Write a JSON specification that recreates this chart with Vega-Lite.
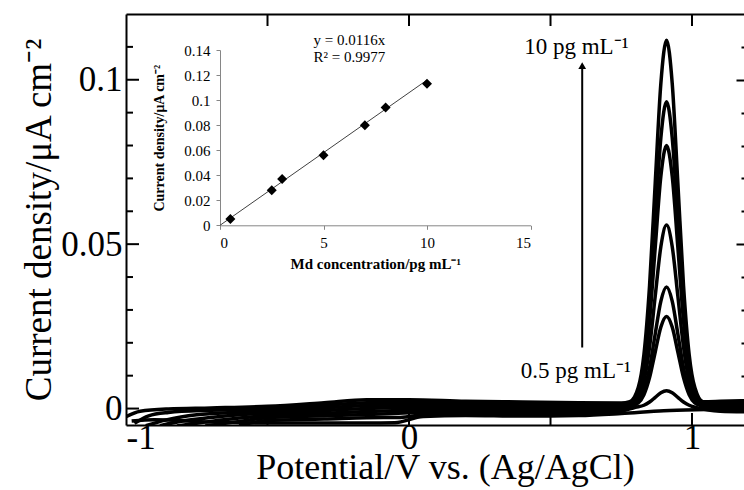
{
  "$schema": "https://vega.github.io/schema/vega-lite/v6.json",
  "autosize": "none",
  "width": 618,
  "height": 411,
  "padding": {"left": 126, "top": 14, "right": 0, "bottom": 65},
  "background": "white",
  "config": {
    "font": "Liberation Serif",
    "view": {"stroke": null},
    "axis": {"grid": false, "labelColor": "black", "titleColor": "black", "domainColor": "black", "tickColor": "black", "labelFont": "Liberation Serif", "titleFont": "Liberation Serif"}
  },
  "datasets": {
    "curves": [
      {"conc": "10", "E": -1.0, "j": -0.0025}, {"conc": "10", "E": -0.95, "j": -0.0008}, {"conc": "10", "E": -0.85, "j": -0.0001}, {"conc": "10", "E": -0.7, "j": 0.0002}, {"conc": "10", "E": -0.5, "j": 0.0007}, {"conc": "10", "E": -0.3, "j": 0.0018}, {"conc": "10", "E": -0.15, "j": 0.0027}, {"conc": "10", "E": 0.0, "j": 0.0027}, {"conc": "10", "E": 0.2, "j": 0.0022}, {"conc": "10", "E": 0.4, "j": 0.002}, {"conc": "10", "E": 0.6, "j": 0.0018}, {"conc": "10", "E": 0.75, "j": 0.0017}, {"conc": "10", "E": 0.78, "j": 0.0021}, {"conc": "10", "E": 0.81, "j": 0.0064}, {"conc": "10", "E": 0.83, "j": 0.0164}, {"conc": "10", "E": 0.85, "j": 0.0374}, {"conc": "10", "E": 0.87, "j": 0.0686}, {"conc": "10", "E": 0.89, "j": 0.099}, {"conc": "10", "E": 0.91, "j": 0.112}, {"conc": "10", "E": 0.93, "j": 0.099}, {"conc": "10", "E": 0.95, "j": 0.0686}, {"conc": "10", "E": 0.97, "j": 0.0374}, {"conc": "10", "E": 0.99, "j": 0.0164}, {"conc": "10", "E": 1.01, "j": 0.0064}, {"conc": "10", "E": 1.04, "j": 0.0021}, {"conc": "10", "E": 1.1, "j": 0.0022}, {"conc": "10", "E": 1.19, "j": 0.0024},
      {"conc": "8", "E": -0.97, "j": -0.0045}, {"conc": "8", "E": -0.92, "j": -0.0022}, {"conc": "8", "E": -0.85, "j": -0.0012}, {"conc": "8", "E": -0.7, "j": -0.0005}, {"conc": "8", "E": -0.5, "j": 0.0}, {"conc": "8", "E": -0.3, "j": 0.001}, {"conc": "8", "E": -0.15, "j": 0.0018}, {"conc": "8", "E": 0.0, "j": 0.0019}, {"conc": "8", "E": 0.2, "j": 0.0016}, {"conc": "8", "E": 0.4, "j": 0.0014}, {"conc": "8", "E": 0.6, "j": 0.0013}, {"conc": "8", "E": 0.75, "j": 0.0012}, {"conc": "8", "E": 0.78, "j": 0.0017}, {"conc": "8", "E": 0.81, "j": 0.0053}, {"conc": "8", "E": 0.83, "j": 0.0136}, {"conc": "8", "E": 0.85, "j": 0.0311}, {"conc": "8", "E": 0.87, "j": 0.0571}, {"conc": "8", "E": 0.89, "j": 0.0824}, {"conc": "8", "E": 0.91, "j": 0.0933}, {"conc": "8", "E": 0.93, "j": 0.0824}, {"conc": "8", "E": 0.95, "j": 0.0571}, {"conc": "8", "E": 0.97, "j": 0.0311}, {"conc": "8", "E": 0.99, "j": 0.0136}, {"conc": "8", "E": 1.01, "j": 0.0053}, {"conc": "8", "E": 1.04, "j": 0.0017}, {"conc": "8", "E": 1.1, "j": 0.0016}, {"conc": "8", "E": 1.19, "j": 0.0018},
      {"conc": "7", "E": -0.93, "j": -0.0052}, {"conc": "7", "E": -0.85, "j": -0.0033}, {"conc": "7", "E": -0.75, "j": -0.0019}, {"conc": "7", "E": -0.6, "j": -0.0011}, {"conc": "7", "E": -0.5, "j": -0.0007}, {"conc": "7", "E": -0.3, "j": 0.0002}, {"conc": "7", "E": -0.15, "j": 0.0009}, {"conc": "7", "E": 0.0, "j": 0.0011}, {"conc": "7", "E": 0.2, "j": 0.001}, {"conc": "7", "E": 0.4, "j": 0.0008}, {"conc": "7", "E": 0.6, "j": 0.0007}, {"conc": "7", "E": 0.75, "j": 0.0008}, {"conc": "7", "E": 0.78, "j": 0.0014}, {"conc": "7", "E": 0.81, "j": 0.0045}, {"conc": "7", "E": 0.83, "j": 0.0117}, {"conc": "7", "E": 0.85, "j": 0.0267}, {"conc": "7", "E": 0.87, "j": 0.049}, {"conc": "7", "E": 0.89, "j": 0.0707}, {"conc": "7", "E": 0.91, "j": 0.08}, {"conc": "7", "E": 0.93, "j": 0.0707}, {"conc": "7", "E": 0.95, "j": 0.049}, {"conc": "7", "E": 0.97, "j": 0.0267}, {"conc": "7", "E": 0.99, "j": 0.0117}, {"conc": "7", "E": 1.01, "j": 0.0045}, {"conc": "7", "E": 1.04, "j": 0.0014}, {"conc": "7", "E": 1.1, "j": 0.0011}, {"conc": "7", "E": 1.19, "j": 0.0012},
      {"conc": "5", "E": -0.88, "j": -0.0052}, {"conc": "5", "E": -0.8, "j": -0.0038}, {"conc": "5", "E": -0.7, "j": -0.0027}, {"conc": "5", "E": -0.6, "j": -0.0019}, {"conc": "5", "E": -0.5, "j": -0.0014}, {"conc": "5", "E": -0.3, "j": -0.0006}, {"conc": "5", "E": -0.15, "j": 0.0}, {"conc": "5", "E": 0.0, "j": 0.0003}, {"conc": "5", "E": 0.2, "j": 0.0004}, {"conc": "5", "E": 0.4, "j": 0.0002}, {"conc": "5", "E": 0.6, "j": 0.0001}, {"conc": "5", "E": 0.75, "j": 0.0005}, {"conc": "5", "E": 0.78, "j": 0.0011}, {"conc": "5", "E": 0.81, "j": 0.0032}, {"conc": "5", "E": 0.83, "j": 0.0082}, {"conc": "5", "E": 0.85, "j": 0.0187}, {"conc": "5", "E": 0.87, "j": 0.0342}, {"conc": "5", "E": 0.89, "j": 0.0493}, {"conc": "5", "E": 0.91, "j": 0.0558}, {"conc": "5", "E": 0.93, "j": 0.0493}, {"conc": "5", "E": 0.95, "j": 0.0342}, {"conc": "5", "E": 0.97, "j": 0.0187}, {"conc": "5", "E": 0.99, "j": 0.0082}, {"conc": "5", "E": 1.01, "j": 0.0032}, {"conc": "5", "E": 1.04, "j": 0.0011}, {"conc": "5", "E": 1.1, "j": 0.0006}, {"conc": "5", "E": 1.19, "j": 0.0006},
      {"conc": "3", "E": -0.82, "j": -0.0053}, {"conc": "3", "E": -0.7, "j": -0.0039}, {"conc": "3", "E": -0.6, "j": -0.0029}, {"conc": "3", "E": -0.5, "j": -0.0021}, {"conc": "3", "E": -0.3, "j": -0.0014}, {"conc": "3", "E": -0.15, "j": -0.0009}, {"conc": "3", "E": 0.0, "j": -0.0005}, {"conc": "3", "E": 0.2, "j": -0.0002}, {"conc": "3", "E": 0.4, "j": -0.0004}, {"conc": "3", "E": 0.6, "j": -0.0005}, {"conc": "3", "E": 0.75, "j": 0.0002}, {"conc": "3", "E": 0.78, "j": 0.0008}, {"conc": "3", "E": 0.81, "j": 0.0022}, {"conc": "3", "E": 0.83, "j": 0.0055}, {"conc": "3", "E": 0.85, "j": 0.0124}, {"conc": "3", "E": 0.87, "j": 0.0227}, {"conc": "3", "E": 0.89, "j": 0.0327}, {"conc": "3", "E": 0.91, "j": 0.037}, {"conc": "3", "E": 0.93, "j": 0.0327}, {"conc": "3", "E": 0.95, "j": 0.0227}, {"conc": "3", "E": 0.97, "j": 0.0124}, {"conc": "3", "E": 0.99, "j": 0.0055}, {"conc": "3", "E": 1.01, "j": 0.0022}, {"conc": "3", "E": 1.04, "j": 0.0008}, {"conc": "3", "E": 1.1, "j": 0.0}, {"conc": "3", "E": 1.19, "j": -0.0002},
      {"conc": "2.5", "E": -0.72, "j": -0.0053}, {"conc": "2.5", "E": -0.6, "j": -0.0039}, {"conc": "2.5", "E": -0.5, "j": -0.0028}, {"conc": "2.5", "E": -0.3, "j": -0.0022}, {"conc": "2.5", "E": -0.15, "j": -0.0018}, {"conc": "2.5", "E": 0.0, "j": -0.0013}, {"conc": "2.5", "E": 0.2, "j": -0.0008}, {"conc": "2.5", "E": 0.4, "j": -0.001}, {"conc": "2.5", "E": 0.6, "j": -0.0011}, {"conc": "2.5", "E": 0.75, "j": -0.0002}, {"conc": "2.5", "E": 0.78, "j": 0.0006}, {"conc": "2.5", "E": 0.81, "j": 0.0017}, {"conc": "2.5", "E": 0.83, "j": 0.0042}, {"conc": "2.5", "E": 0.85, "j": 0.0094}, {"conc": "2.5", "E": 0.87, "j": 0.0172}, {"conc": "2.5", "E": 0.89, "j": 0.0248}, {"conc": "2.5", "E": 0.91, "j": 0.028}, {"conc": "2.5", "E": 0.93, "j": 0.0248}, {"conc": "2.5", "E": 0.95, "j": 0.0172}, {"conc": "2.5", "E": 0.97, "j": 0.0094}, {"conc": "2.5", "E": 0.99, "j": 0.0042}, {"conc": "2.5", "E": 1.01, "j": 0.0017}, {"conc": "2.5", "E": 1.04, "j": 0.0006}, {"conc": "2.5", "E": 1.1, "j": -0.0006}, {"conc": "2.5", "E": 1.19, "j": -0.0008},
      {"conc": "0.5", "E": -0.6, "j": -0.0052}, {"conc": "0.5", "E": -0.5, "j": -0.0036}, {"conc": "0.5", "E": -0.3, "j": -0.0032}, {"conc": "0.5", "E": -0.15, "j": -0.0028}, {"conc": "0.5", "E": -0.03, "j": -0.0027}, {"conc": "0.5", "E": 0.05, "j": -0.0019}, {"conc": "0.5", "E": 0.2, "j": -0.0015}, {"conc": "0.5", "E": 0.4, "j": -0.0017}, {"conc": "0.5", "E": 0.6, "j": -0.0017}, {"conc": "0.5", "E": 0.75, "j": -0.0008}, {"conc": "0.5", "E": 0.8, "j": 0.0004}, {"conc": "0.5", "E": 0.83, "j": 0.001}, {"conc": "0.5", "E": 0.85, "j": 0.002}, {"conc": "0.5", "E": 0.87, "j": 0.0034}, {"conc": "0.5", "E": 0.89, "j": 0.0048}, {"conc": "0.5", "E": 0.91, "j": 0.0054}, {"conc": "0.5", "E": 0.93, "j": 0.0048}, {"conc": "0.5", "E": 0.95, "j": 0.0034}, {"conc": "0.5", "E": 0.97, "j": 0.002}, {"conc": "0.5", "E": 0.99, "j": 0.001}, {"conc": "0.5", "E": 1.02, "j": 0.0002}, {"conc": "0.5", "E": 1.1, "j": -0.0008}, {"conc": "0.5", "E": 1.19, "j": -0.001},
      {"conc": "0", "E": -0.98, "j": -0.0038}, {"conc": "0", "E": -0.9, "j": -0.0034}, {"conc": "0", "E": -0.7, "j": -0.0041}, {"conc": "0", "E": -0.5, "j": -0.0044}, {"conc": "0", "E": -0.3, "j": -0.0044}, {"conc": "0", "E": -0.15, "j": -0.0044}, {"conc": "0", "E": -0.05, "j": -0.0043}, {"conc": "0", "E": 0.05, "j": -0.0024}, {"conc": "0", "E": 0.2, "j": -0.0021}, {"conc": "0", "E": 0.4, "j": -0.0023}, {"conc": "0", "E": 0.6, "j": -0.0021}, {"conc": "0", "E": 0.75, "j": -0.0015}, {"conc": "0", "E": 0.9, "j": -0.0007}, {"conc": "0", "E": 1.05, "j": -0.0003}, {"conc": "0", "E": 1.19, "j": 0.0}
    ],
    "calib": [
      {"c": 0.5, "j": 0.005}, {"c": 2.5, "j": 0.028}, {"c": 3, "j": 0.037}, {"c": 5, "j": 0.056}, {"c": 7, "j": 0.080}, {"c": 8, "j": 0.094}, {"c": 10, "j": 0.113}
    ],
    "fit": [{"c": 0, "j": 0}, {"c": 10, "j": 0.116}],
    "fitText": [{"c": 6.25, "j": 0.148, "text": "y = 0.0116x"}, {"c": 6.25, "j": 0.1344, "text": "R² = 0.9977"}],
    "arrow": [{"E": 0.612, "j1": 0.0186, "j2": 0.1035}],
    "arrowHead": [{"E": 0.612, "j": 0.1043}],
    "labels": [{"E": 0.407, "j": 0.1079, "text": "10 pg mL⁻¹"}, {"E": 0.395, "j": 0.0094, "text": "0.5 pg mL⁻¹"}],
    "yMajor": [{"t": 0}, {"t": 0.05}, {"t": 0.1}],
    "yMinor": [{"t": 0.01}, {"t": 0.02}, {"t": 0.03}, {"t": 0.04}, {"t": 0.06}, {"t": 0.07}, {"t": 0.08}, {"t": 0.09}, {"t": 0.11}],
    "xTicks": [{"t": -0.5}, {"t": 0}, {"t": 0.5}, {"t": 1}]
  },
  "resolve": {"scale": {"x": "independent", "y": "independent"}, "axis": {"x": "independent", "y": "independent"}},
  "layer": [
    {
      "data": {"name": "curves"},
      "mark": {"type": "line", "stroke": "black", "strokeWidth": 3.5, "interpolate": "monotone", "clip": true},
      "encoding": {
        "x": {"field": "E", "type": "quantitative", "scale": {"domain": [-1, 1.1837], "nice": false, "zero": false},
          "axis": {"orient": "bottom", "values": [-1, 0, 1], "ticks": false, "tickSize": 0, "domainWidth": 2, "labelFontSize": 35, "labelPadding": -5,
            "labelExpr": "datum.value == -1 ? '-1' : datum.value == 0 ? '0' : '1'",
            "title": "Potential/V vs. (Ag/AgCl)", "titleFontSize": 36, "titleFontWeight": "normal", "titlePadding": -5, "titleX": 319}},
        "y": {"field": "j", "type": "quantitative", "scale": {"domain": [-0.005, 0.12], "nice": false, "zero": false},
          "axis": {"orient": "left", "values": [0, 0.05, 0.1], "ticks": false, "tickSize": 0, "domainWidth": 2, "labelFontSize": 35, "labelPadding": 4,
            "labelExpr": "datum.value == 0 ? '0' : datum.value < 0.07 ? '0.05' : '0.1'",
            "title": "Current density/μA cm⁻²", "titleFontSize": 37, "titleFontWeight": "normal", "titlePadding": 2}},
        "detail": {"field": "conc", "type": "nominal"}
      }
    },
    {
      "data": {"name": "arrow"},
      "mark": {"type": "rule", "stroke": "black", "strokeWidth": 2},
      "encoding": {
        "x": {"field": "E", "type": "quantitative", "scale": {"domain": [-1, 1.1837], "nice": false, "zero": false},
          "axis": {"orient": "top", "values": [0], "ticks": false, "domainWidth": 2, "labels": false, "title": null}},
        "y": {"field": "j1", "type": "quantitative", "scale": {"domain": [-0.005, 0.12], "nice": false, "zero": false}, "axis": null},
        "y2": {"field": "j2"}
      }
    },
    {
      "data": {"name": "arrowHead"},
      "mark": {"type": "point", "shape": "triangle-up", "filled": true, "color": "black", "size": 60, "opacity": 1},
      "encoding": {
        "x": {"field": "E", "type": "quantitative", "scale": {"domain": [-1, 1.1837], "nice": false, "zero": false}, "axis": null},
        "y": {"field": "j", "type": "quantitative", "scale": {"domain": [-0.005, 0.12], "nice": false, "zero": false}, "axis": null}
      }
    },
    {
      "data": {"name": "labels"},
      "mark": {"type": "text", "align": "left", "baseline": "alphabetic", "fontSize": 23, "font": "Liberation Serif", "color": "black"},
      "encoding": {
        "x": {"field": "E", "type": "quantitative", "scale": {"domain": [-1, 1.1837], "nice": false, "zero": false}, "axis": null},
        "y": {"field": "j", "type": "quantitative", "scale": {"domain": [-0.005, 0.12], "nice": false, "zero": false}, "axis": null},
        "text": {"field": "text"}
      }
    },
    {
      "data": {"name": "arrowHead"},
      "mark": {"type": "point", "opacity": 0},
      "encoding": {
        "x": {"field": "E", "type": "quantitative", "scale": {"domain": [-1, 1.1837], "nice": false, "zero": false}, "axis": null},
        "y": {"field": "j", "type": "quantitative", "scale": {"domain": [-0.005, 0.12], "nice": false, "zero": false},
          "axis": {"orient": "right", "offset": -8, "values": [0, 0.05, 0.1], "tickSize": 8, "tickWidth": 2, "domain": false, "labels": false, "title": null}}
      }
    },
    {
      "data": {"name": "arrowHead"},
      "mark": {"type": "point", "opacity": 0},
      "encoding": {
        "x": {"field": "E", "type": "quantitative", "scale": {"domain": [-1, 1.1837], "nice": false, "zero": false}, "axis": null},
        "y": {"field": "j", "type": "quantitative", "scale": {"domain": [-0.005, 0.12], "nice": false, "zero": false},
          "axis": {"orient": "right", "offset": -3, "values": [0.01, 0.02, 0.03, 0.04, 0.06, 0.07, 0.08, 0.09, 0.11], "tickSize": 3, "tickWidth": 2, "domain": false, "labels": false, "title": null}}
      }
    },
    {
      "data": {"name": "fit"},
      "mark": {"type": "line", "stroke": "#404040", "strokeWidth": 1},
      "encoding": {
        "x": {"field": "c", "type": "quantitative", "scale": {"domain": [0, 15], "range": [94, 404.5], "nice": false, "zero": false}, "axis": null},
        "y": {"field": "j", "type": "quantitative", "scale": {"domain": [0, 0.14], "range": [211.3, 36], "nice": false, "zero": false}, "axis": null}
      }
    },
    {
      "data": {"name": "calib"},
      "mark": {"type": "point", "shape": "diamond", "filled": true, "color": "black", "size": 100, "opacity": 1},
      "encoding": {
        "x": {"field": "c", "type": "quantitative", "scale": {"domain": [0, 15], "range": [94, 404.5], "nice": false, "zero": false},
          "axis": {"orient": "bottom", "offset": -199.7, "values": [0, 5, 10, 15], "format": "d", "domainColor": "#868686", "tickColor": "#868686", "tickSize": 4, "tickWidth": 1, "domainWidth": 1,
            "labelFontSize": 15, "labelPadding": 6, "title": "Md concentration/pg  mL⁻¹", "titleFontSize": 15, "titleFontWeight": "bold", "titlePadding": 6}},
        "y": {"field": "j", "type": "quantitative", "scale": {"domain": [0, 0.14], "range": [211.3, 36], "nice": false, "zero": false},
          "axis": {"orient": "left", "offset": -94, "values": [0, 0.02, 0.04, 0.06, 0.08, 0.1, 0.12, 0.14], "format": ".2~f", "domainColor": "#868686", "tickColor": "#868686", "tickSize": 4, "tickWidth": 1, "domainWidth": 1,
            "labelFontSize": 15, "labelPadding": 6, "title": "Current density/μA cm⁻²", "titleFontSize": 14, "titleFontWeight": "bold", "titlePadding": 17}}
      }
    },
    {
      "data": {"name": "fitText"},
      "mark": {"type": "text", "align": "center", "baseline": "middle", "fontSize": 15, "font": "Liberation Serif", "color": "black"},
      "encoding": {
        "x": {"field": "c", "type": "quantitative", "scale": {"domain": [0, 15], "range": [94, 404.5], "nice": false, "zero": false}, "axis": null},
        "y": {"field": "j", "type": "quantitative", "scale": {"domain": [0, 0.14], "range": [211.3, 36], "nice": false, "zero": false}, "axis": null},
        "text": {"field": "text"}
      }
    },
    {
      "data": {"name": "yMajor"},
      "mark": {"type": "rule", "stroke": "black", "strokeWidth": 2},
      "encoding": {
        "x": {"datum": -1, "type": "quantitative", "scale": {"domain": [-1, 1.1837], "nice": false, "zero": false}, "axis": null},
        "x2": {"datum": -0.954},
        "y": {"field": "t", "type": "quantitative", "scale": {"domain": [-0.005, 0.12], "nice": false, "zero": false}, "axis": null}
      }
    },
    {
      "data": {"name": "yMinor"},
      "mark": {"type": "rule", "stroke": "black", "strokeWidth": 2},
      "encoding": {
        "x": {"datum": -1, "type": "quantitative", "scale": {"domain": [-1, 1.1837], "nice": false, "zero": false}, "axis": null},
        "x2": {"datum": -0.9753},
        "y": {"field": "t", "type": "quantitative", "scale": {"domain": [-0.005, 0.12], "nice": false, "zero": false}, "axis": null}
      }
    },
    {
      "data": {"name": "xTicks"},
      "mark": {"type": "rule", "stroke": "black", "strokeWidth": 2},
      "encoding": {
        "x": {"field": "t", "type": "quantitative", "scale": {"domain": [-1, 1.1837], "nice": false, "zero": false}, "axis": null},
        "y": {"datum": 0.12, "type": "quantitative", "scale": {"domain": [-0.005, 0.12], "nice": false, "zero": false}, "axis": null},
        "y2": {"datum": 0.11635}
      }
    },
    {
      "data": {"name": "xTicks"},
      "mark": {"type": "rule", "stroke": "black", "strokeWidth": 2},
      "encoding": {
        "x": {"field": "t", "type": "quantitative", "scale": {"domain": [-1, 1.1837], "nice": false, "zero": false}, "axis": null},
        "y": {"datum": -0.005, "type": "quantitative", "scale": {"domain": [-0.005, 0.12], "nice": false, "zero": false}, "axis": null},
        "y2": {"datum": -0.00135}
      }
    }
  ]
}
